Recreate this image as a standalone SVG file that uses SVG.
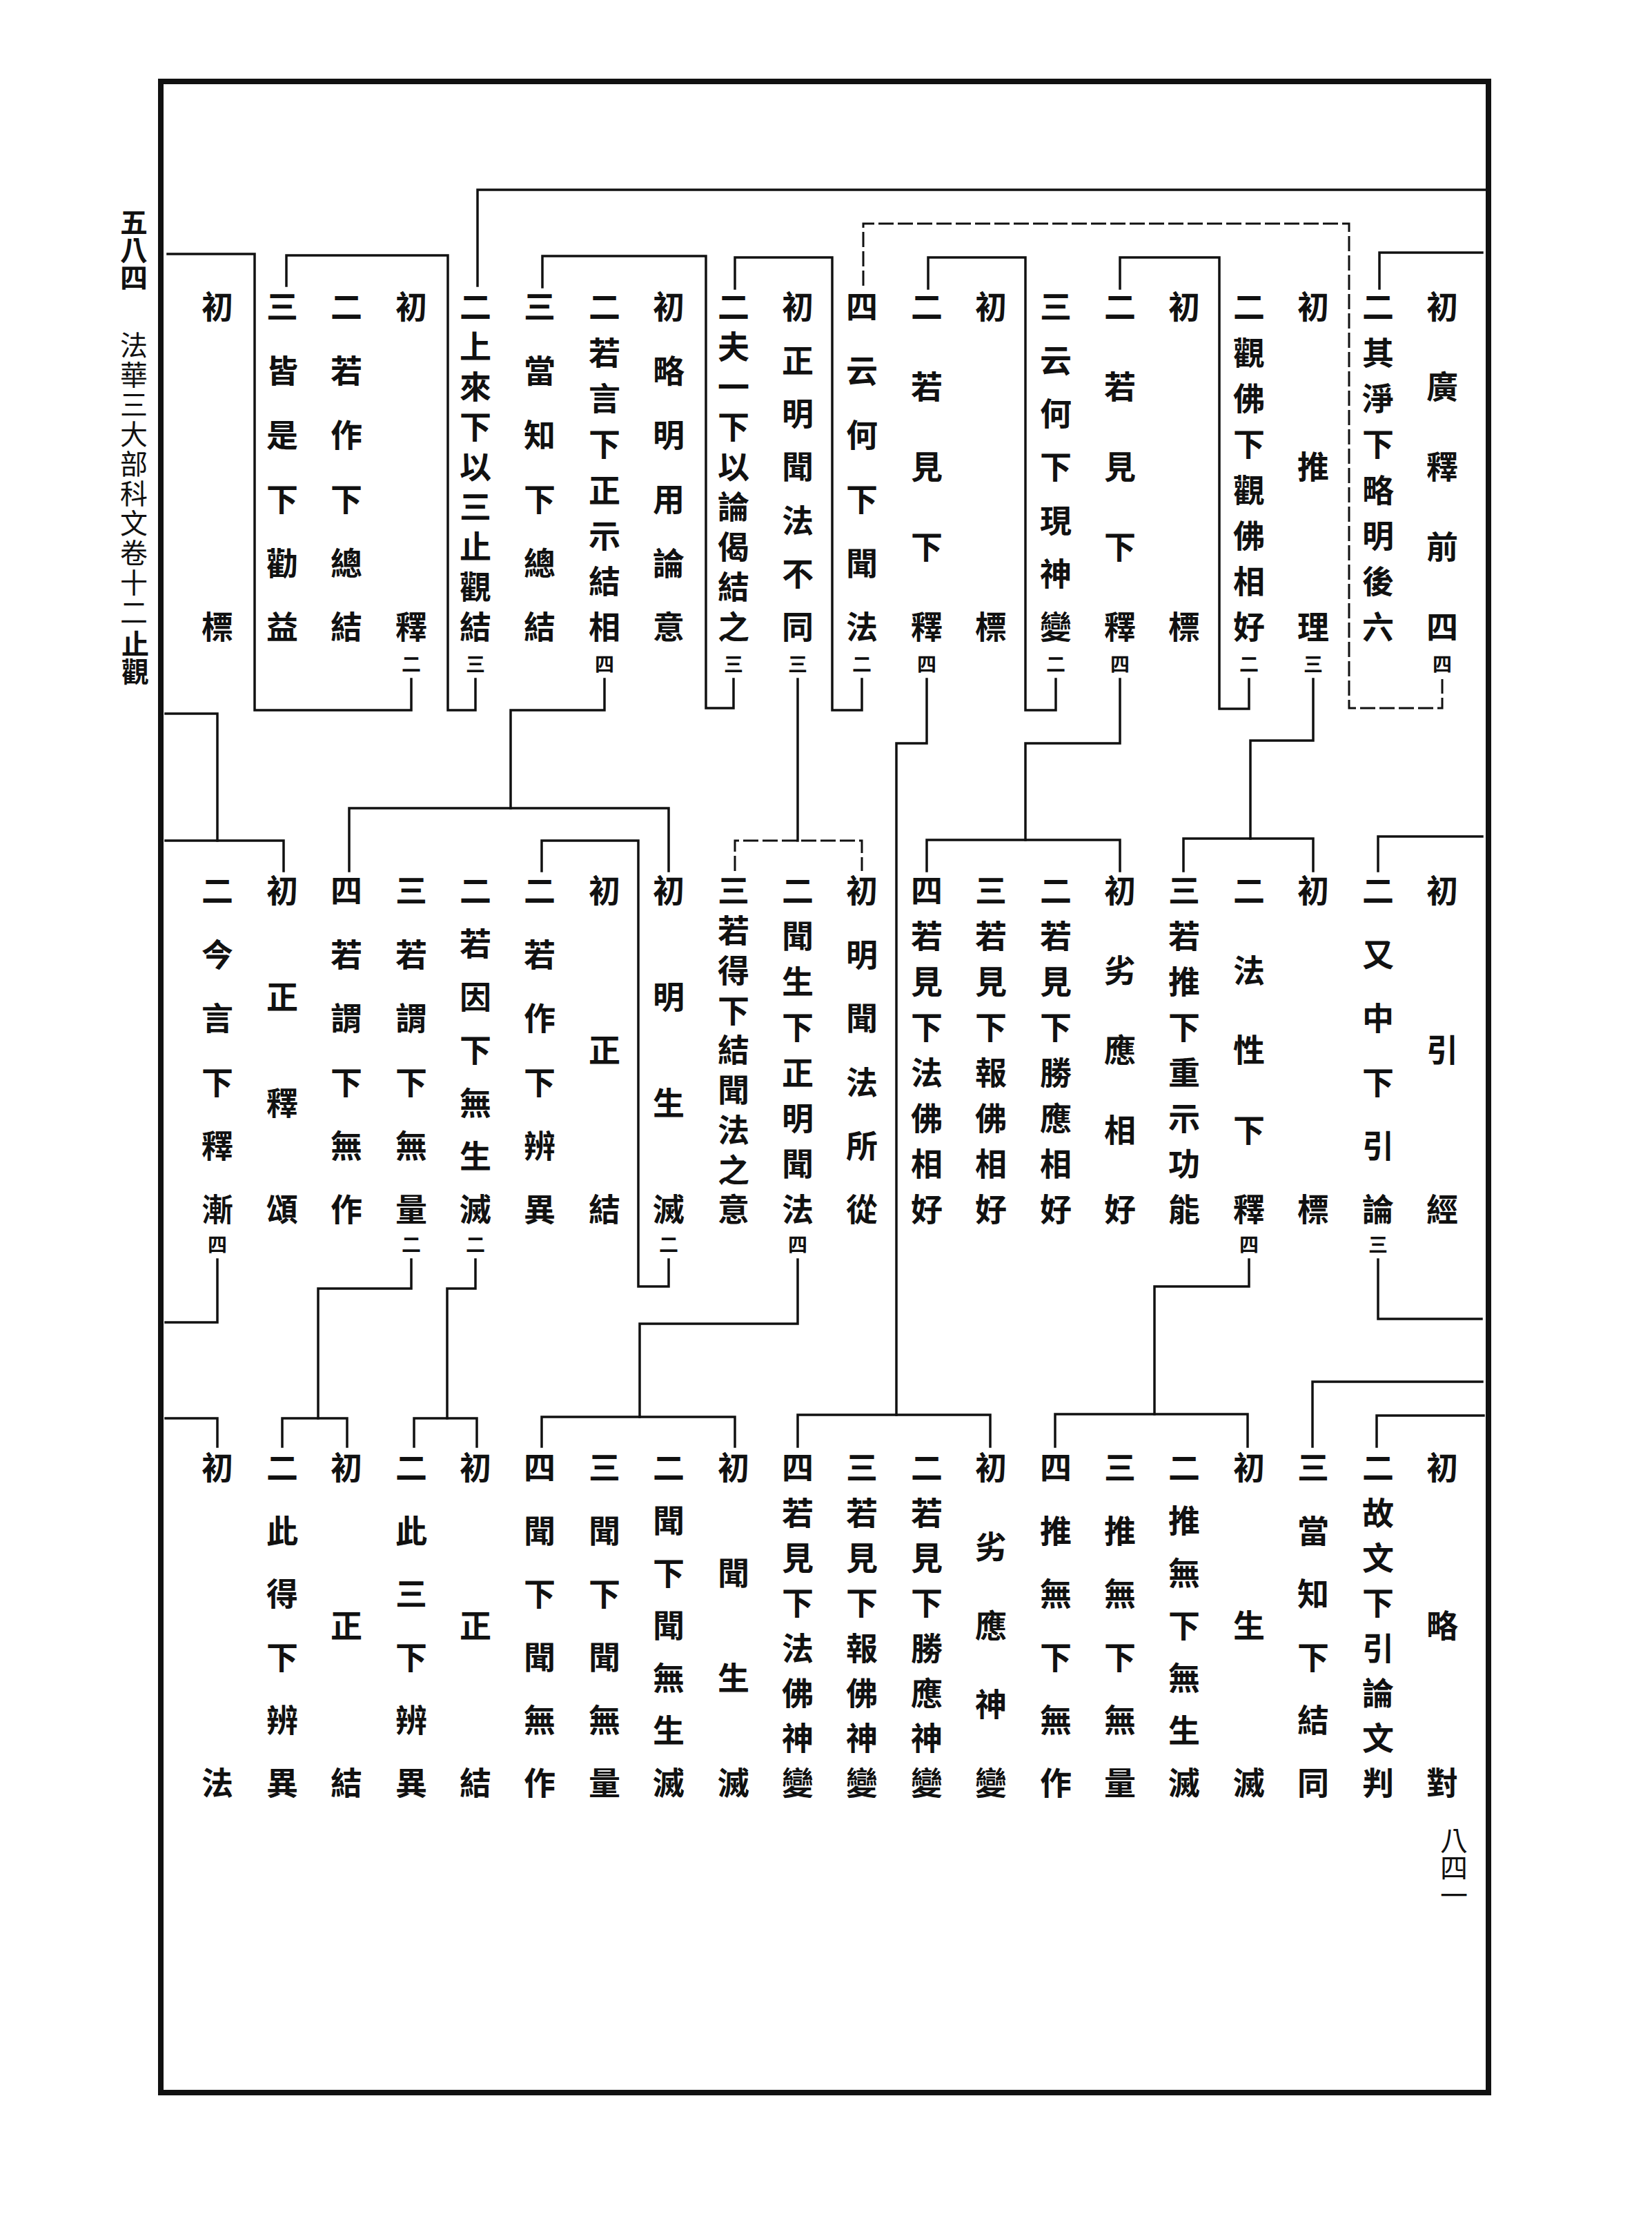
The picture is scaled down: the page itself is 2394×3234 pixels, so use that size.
<svg xmlns="http://www.w3.org/2000/svg" width="2394" height="3234" viewBox="0 0 2394 3234">
<style>
.v{font-family:"Noto Sans CJK TC","Noto Sans CJK SC",sans-serif;font-size:46px;font-weight:700;writing-mode:vertical-rl;dominant-baseline:central;fill:#111}
.s{font-size:28px}
.m{font-family:"Noto Sans CJK TC","Noto Sans CJK SC",sans-serif;font-size:40px;writing-mode:vertical-rl;dominant-baseline:central;fill:#111}
.z{letter-spacing:0}
.a2{letter-spacing:418px}.a3{letter-spacing:186px}.a5{letter-spacing:70px}.a6{letter-spacing:46.8px}.a7{letter-spacing:31.3px}.a8{letter-spacing:20.3px}.a9{letter-spacing:12px}
.b2{letter-spacing:416px}.b3{letter-spacing:185px}.b4{letter-spacing:108px}.b5{letter-spacing:69.5px}.b6{letter-spacing:46.4px}.b7{letter-spacing:31px}.b8{letter-spacing:20px}.b9{letter-spacing:11.75px}
.e2{letter-spacing:411px}.e3{letter-spacing:182.5px}.e4{letter-spacing:106.3px}.e5{letter-spacing:68.25px}.e6{letter-spacing:45.4px}.e7{letter-spacing:30.2px}.e8{letter-spacing:19.3px}
.ln{stroke:#111;stroke-width:3.5;fill:none;stroke-linecap:square}
.d{stroke:#111;stroke-width:3;fill:none;stroke-dasharray:22 6}
.f{stroke:#111;stroke-width:8;fill:none}
</style>
<rect width="2394" height="3234" fill="#fff"/>
<g id="frame"><rect class="f" x="233" y="118" width="1924" height="2914"/></g>
<g id="margin">
<text class="m" x="194" y="302" font-weight="700">五八四</text>
<text class="m" x="194" y="480" letter-spacing="3">法華三大部科文卷十<tspan class="z">二</tspan></text>
<text class="m" x="196" y="913" font-size="28" font-weight="700">止觀</text>
<text class="m" x="2107" y="2646" font-size="27" fill="#222">八四一</text>
</g>
<g id="connectors">
<path class="ln" d="M692 414V275H2153"/>
<path class="d" d="M1251 414V324H1955V1026H2090V984"/>
<path class="ln" d="M2148 366H1999V418"/>
<path class="ln" d="M1810 984V1027H1767V373H1623V418"/>
<path class="ln" d="M1530 984V1029H1486V373H1345V418"/>
<path class="ln" d="M1249 984V1029H1206V373H1065V418"/>
<path class="ln" d="M1063 984V1026H1023V371H786V416"/>
<path class="ln" d="M689 984V1029H649V370H415V414"/>
<path class="ln" d="M596 984V1029H369V368H243"/>
<path class="ln" d="M1903 984V1073H1812V1215"/>
<path class="ln" d="M1715 1262V1215H1903V1262"/>
<path class="ln" d="M1623 984V1077H1486V1217"/>
<path class="ln" d="M1343 1262V1217H1623V1262"/>
<path class="ln" d="M1343 984V1077H1299V2050"/>
<path class="ln" d="M1156 2096V2050H1435V2096"/>
<path class="ln" d="M1156 984V1218"/>
<path class="d" d="M1065 1262V1218H1249V1262"/>
<path class="ln" d="M876 984V1029H740V1171"/>
<path class="ln" d="M506 1262V1171H969V1262"/>
<path class="ln" d="M240 1034H315V1218"/>
<path class="ln" d="M240 1218H411V1262"/>
<path class="ln" d="M2148 1212H1997V1262"/>
<path class="ln" d="M1997 1825V1911H2147"/>
<path class="ln" d="M2148 2002H1902V2096"/>
<path class="ln" d="M2150 2051H1995V2096"/>
<path class="ln" d="M1810 1825V1864H1673V2049"/>
<path class="ln" d="M1529 2096V2049H1808V2096"/>
<path class="ln" d="M1156 1825V1918H927V2053"/>
<path class="ln" d="M785 2096V2053H1065V2096"/>
<path class="ln" d="M969 1825V1864H925V1218H785V1262"/>
<path class="ln" d="M689 1825V1867H648V2055"/>
<path class="ln" d="M600 2096V2055H691V2096"/>
<path class="ln" d="M596 1825V1867H461V2055"/>
<path class="ln" d="M409 2096V2055H503V2096"/>
<path class="ln" d="M315 1825V1916H240"/>
<path class="ln" d="M240 2055H315V2096"/>
</g>
<g id="r1c0"><text class="v a5" x="2090" y="421">初廣釋前<tspan class="z">四</tspan></text><text class="v s" x="2090" y="948">四</text></g>
<g id="r1c1"><text class="v a8" x="1997" y="421">二其淨下略明後<tspan class="z">六</tspan></text></g>
<g id="r1c2"><text class="v a3" x="1903" y="421">初推<tspan class="z">理</tspan></text><text class="v s" x="1903" y="948">三</text></g>
<g id="r1c3"><text class="v a8" x="1810" y="421">二觀佛下觀佛相<tspan class="z">好</tspan></text><text class="v s" x="1810" y="948">二</text></g>
<g id="r1c4"><text class="v a2" x="1716" y="421">初<tspan class="z">標</tspan></text></g>
<g id="r1c5"><text class="v a5" x="1623" y="421">二若見下<tspan class="z">釋</tspan></text><text class="v s" x="1623" y="948">四</text></g>
<g id="r1c6"><text class="v a7" x="1530" y="421">三云何下現神<tspan class="z">變</tspan></text><text class="v s" x="1530" y="948">二</text></g>
<g id="r1c7"><text class="v a2" x="1436" y="421">初<tspan class="z">標</tspan></text></g>
<g id="r1c8"><text class="v a5" x="1343" y="421">二若見下<tspan class="z">釋</tspan></text><text class="v s" x="1343" y="948">四</text></g>
<g id="r1c9"><text class="v a6" x="1249" y="421">四云何下聞<tspan class="z">法</tspan></text><text class="v s" x="1249" y="948">二</text></g>
<g id="r1c10"><text class="v a7" x="1156" y="421">初正明聞法不<tspan class="z">同</tspan></text><text class="v s" x="1156" y="948">三</text></g>
<g id="r1c11"><text class="v a9" x="1063" y="421">二夫一下以論偈結<tspan class="z">之</tspan></text><text class="v s" x="1063" y="948">三</text></g>
<g id="r1c12"><text class="v a6" x="969" y="421">初略明用論<tspan class="z">意</tspan></text></g>
<g id="r1c13"><text class="v a8" x="876" y="421">二若言下正示結<tspan class="z">相</tspan></text><text class="v s" x="876" y="948">四</text></g>
<g id="r1c14"><text class="v a6" x="782" y="421">三當知下總<tspan class="z">結</tspan></text></g>
<g id="r1c15"><text class="v a9" x="689" y="421">二上來下以三止觀<tspan class="z">結</tspan></text><text class="v s" x="689" y="948">三</text></g>
<g id="r1c16"><text class="v a2" x="596" y="421">初<tspan class="z">釋</tspan></text><text class="v s" x="596" y="948">二</text></g>
<g id="r1c17"><text class="v a6" x="502" y="421">二若作下總<tspan class="z">結</tspan></text></g>
<g id="r1c18"><text class="v a6" x="409" y="421">三皆是下勸<tspan class="z">益</tspan></text></g>
<g id="r1c19"><text class="v a2" x="315" y="421">初<tspan class="z">標</tspan></text></g>
<g id="r2c0"><text class="v b3" x="2090" y="1267">初引<tspan class="z">經</tspan></text></g>
<g id="r2c1"><text class="v b6" x="1997" y="1267">二又中下引<tspan class="z">論</tspan></text><text class="v s" x="1997" y="1789">三</text></g>
<g id="r2c2"><text class="v b2" x="1903" y="1267">初<tspan class="z">標</tspan></text></g>
<g id="r2c3"><text class="v b5" x="1810" y="1267">二法性下<tspan class="z">釋</tspan></text><text class="v s" x="1810" y="1789">四</text></g>
<g id="r2c4"><text class="v b8" x="1716" y="1267">三若推下重示功<tspan class="z">能</tspan></text></g>
<g id="r2c5"><text class="v b5" x="1623" y="1267">初劣應相<tspan class="z">好</tspan></text></g>
<g id="r2c6"><text class="v b8" x="1530" y="1267">二若見下勝應相<tspan class="z">好</tspan></text></g>
<g id="r2c7"><text class="v b8" x="1436" y="1267">三若見下報佛相<tspan class="z">好</tspan></text></g>
<g id="r2c8"><text class="v b8" x="1343" y="1267">四若見下法佛相<tspan class="z">好</tspan></text></g>
<g id="r2c9"><text class="v b6" x="1249" y="1267">初明聞法所<tspan class="z">從</tspan></text></g>
<g id="r2c10"><text class="v b8" x="1156" y="1267">二聞生下正明聞<tspan class="z">法</tspan></text><text class="v s" x="1156" y="1789">四</text></g>
<g id="r2c11"><text class="v b9" x="1063" y="1267">三若得下結聞法之<tspan class="z">意</tspan></text></g>
<g id="r2c12"><text class="v b4" x="969" y="1267">初明生<tspan class="z">滅</tspan></text><text class="v s" x="969" y="1789">二</text></g>
<g id="r2c13"><text class="v b3" x="876" y="1267">初正<tspan class="z">結</tspan></text></g>
<g id="r2c14"><text class="v b6" x="782" y="1267">二若作下辨<tspan class="z">異</tspan></text></g>
<g id="r2c15"><text class="v b7" x="689" y="1267">二若因下無生<tspan class="z">滅</tspan></text><text class="v s" x="689" y="1789">二</text></g>
<g id="r2c16"><text class="v b6" x="596" y="1267">三若謂下無<tspan class="z">量</tspan></text><text class="v s" x="596" y="1789">二</text></g>
<g id="r2c17"><text class="v b6" x="502" y="1267">四若謂下無<tspan class="z">作</tspan></text></g>
<g id="r2c18"><text class="v b4" x="409" y="1267">初正釋<tspan class="z">頌</tspan></text></g>
<g id="r2c19"><text class="v b6" x="315" y="1267">二今言下釋<tspan class="z">漸</tspan></text><text class="v s" x="315" y="1789">四</text></g>
<g id="r3c0"><text class="v e3" x="2090" y="2103">初略<tspan class="z">對</tspan></text></g>
<g id="r3c1"><text class="v e8" x="1997" y="2103">二故文下引論文<tspan class="z">判</tspan></text></g>
<g id="r3c2"><text class="v e6" x="1903" y="2103">三當知下結<tspan class="z">同</tspan></text></g>
<g id="r3c3"><text class="v e3" x="1810" y="2103">初生<tspan class="z">滅</tspan></text></g>
<g id="r3c4"><text class="v e7" x="1716" y="2103">二推無下無生<tspan class="z">滅</tspan></text></g>
<g id="r3c5"><text class="v e6" x="1623" y="2103">三推無下無<tspan class="z">量</tspan></text></g>
<g id="r3c6"><text class="v e6" x="1530" y="2103">四推無下無<tspan class="z">作</tspan></text></g>
<g id="r3c7"><text class="v e5" x="1436" y="2103">初劣應神<tspan class="z">變</tspan></text></g>
<g id="r3c8"><text class="v e8" x="1343" y="2103">二若見下勝應神<tspan class="z">變</tspan></text></g>
<g id="r3c9"><text class="v e8" x="1249" y="2103">三若見下報佛神<tspan class="z">變</tspan></text></g>
<g id="r3c10"><text class="v e8" x="1156" y="2103">四若見下法佛神<tspan class="z">變</tspan></text></g>
<g id="r3c11"><text class="v e4" x="1063" y="2103">初聞生<tspan class="z">滅</tspan></text></g>
<g id="r3c12"><text class="v e7" x="969" y="2103">二聞下聞無生<tspan class="z">滅</tspan></text></g>
<g id="r3c13"><text class="v e6" x="876" y="2103">三聞下聞無<tspan class="z">量</tspan></text></g>
<g id="r3c14"><text class="v e6" x="782" y="2103">四聞下聞無<tspan class="z">作</tspan></text></g>
<g id="r3c15"><text class="v e3" x="689" y="2103">初正<tspan class="z">結</tspan></text></g>
<g id="r3c16"><text class="v e6" x="596" y="2103">二此三下辨<tspan class="z">異</tspan></text></g>
<g id="r3c17"><text class="v e3" x="502" y="2103">初正<tspan class="z">結</tspan></text></g>
<g id="r3c18"><text class="v e6" x="409" y="2103">二此得下辨<tspan class="z">異</tspan></text></g>
<g id="r3c19"><text class="v e2" x="315" y="2103">初<tspan class="z">法</tspan></text></g>
</svg>
